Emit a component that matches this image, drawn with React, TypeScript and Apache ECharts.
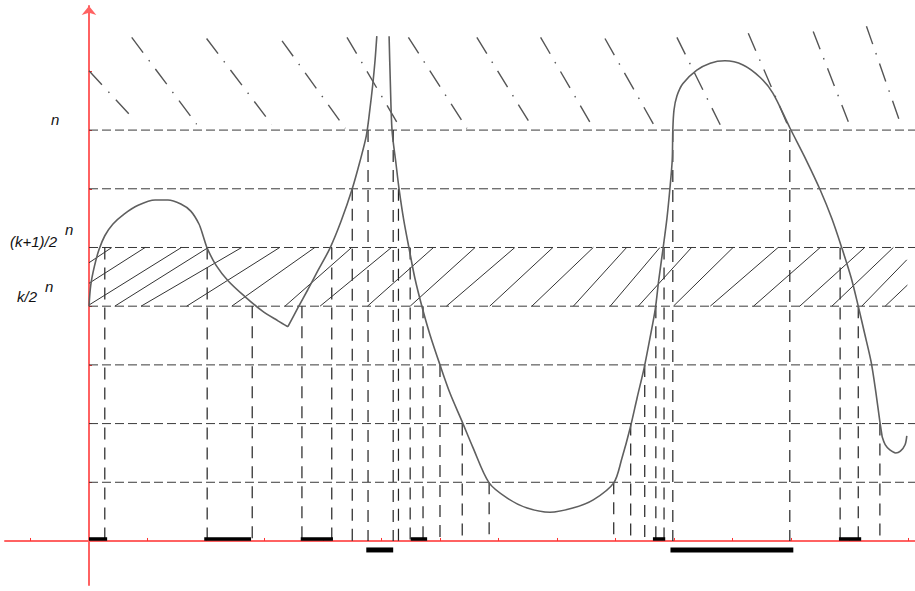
import React, { useEffect, useRef } from 'react';
import * as echarts from 'echarts';

// axis extents (graph units)
const X_MIN = -1.436;
const X_MAX = 14.12;
const Y_MIN = -0.75;
const Y_MAX = 9.114;

const xTickValues = [-1, 1, 2, 3, 4, 5, 6, 7, 8, 9, 10, 11, 12, 13, 14];
const yTickValues = [1, 2, 3, 4, 5, 6, 7, 8, 9];

// horizontal dashed levels
const levels = [1, 2, 3, 4, 5, 6, 7];

// the function graph, in pieces
const curveA1 = [
  [0, 4.0], [0.03, 4.36], [0.09, 4.67], [0.17, 4.96], [0.27, 5.2], [0.41, 5.4],
  [0.6, 5.57], [0.84, 5.72], [1.13, 5.81], [1.35, 5.81], [1.57, 5.74], [1.74, 5.62],
  [1.88, 5.4], [1.95, 5.2], [2.02, 4.99], [2.17, 4.7], [2.38, 4.43], [2.67, 4.16],
  [2.96, 3.92], [3.23, 3.75], [3.4, 3.65],
];
const curveA2 = [
  [3.4, 3.65], [3.57, 3.97], [3.74, 4.28], [3.91, 4.6], [4.12, 4.99], [4.31, 5.45],
  [4.5, 6.0], [4.63, 6.46], [4.74, 6.9], [4.8, 7.34], [4.85, 7.77], [4.89, 8.19],
  [4.92, 8.6],
];
const curveB = [
  [5.13, 8.6], [5.15, 7.85], [5.18, 7.0], [5.25, 6.41], [5.3, 6.0], [5.38, 5.47],
  [5.47, 4.99], [5.57, 4.48], [5.69, 4.0], [5.83, 3.51], [6.0, 3.0], [6.17, 2.52],
  [6.38, 2.03], [6.56, 1.6], [6.84, 0.99], [7.15, 0.73], [7.49, 0.56], [7.88, 0.49],
  [8.27, 0.56], [8.62, 0.7], [8.97, 0.99], [9.11, 1.41], [9.25, 1.92], [9.37, 2.44],
  [9.49, 2.95], [9.59, 3.46], [9.68, 3.95], [9.74, 4.45], [9.81, 4.96], [9.88, 5.5],
  [9.93, 6.0], [9.97, 6.49], [9.98, 7.0], [10.0, 7.34], [10.05, 7.58], [10.15, 7.79],
  [10.39, 8.02], [10.62, 8.14], [10.87, 8.18], [11.18, 8.11], [11.47, 7.9], [11.69, 7.63],
  [11.98, 7.04], [12.26, 6.49], [12.5, 5.98], [12.7, 5.49], [12.87, 4.99], [13.03, 4.48],
  [13.15, 4.0], [13.26, 3.53], [13.37, 3.05], [13.45, 2.54], [13.52, 2.03], [13.56, 1.77],
];
const curveHook = [
  [13.56, 1.77], [13.61, 1.64], [13.69, 1.55], [13.79, 1.5], [13.87, 1.53],
  [13.95, 1.64], [13.98, 1.79],
];

// vertical dashed drops: [x, level]
const drops = [
  [0.27, 5], [2.02, 5], [2.79, 4], [3.64, 4], [4.15, 5], [4.5, 6], [4.77, 7],
  [5.2, 7], [5.29, 6], [5.49, 5], [5.71, 4], [6.0, 3], [6.38, 2], [6.84, 1],
  [8.97, 1], [9.26, 2], [9.5, 3], [9.69, 4], [9.83, 5], [9.98, 7], [11.98, 7],
  [12.84, 5], [13.15, 4], [13.52, 2],
];

// hatch strokes in the band [k/2^n, (k+1)/2^n]: [x1, y1, x2, y2]
const hatch = [
  [0, 4.74, 0.39, 5], [0, 4.39, 0.96, 5], [0, 4.02, 1.58, 5], [0.44, 4, 2.04, 5],
  [0.89, 4, 2.61, 5], [1.67, 4, 3.26, 5], [2.44, 4, 3.86, 5], [3.35, 4, 4.49, 5],
  [3.95, 4, 5.17, 5], [4.76, 4, 5.89, 5], [5.49, 4, 6.6, 5], [6.11, 4, 7.28, 5],
  [6.85, 4, 7.93, 5], [7.57, 4, 8.62, 5], [8.28, 4, 9.19, 5], [8.91, 4, 9.76, 5],
  [9.39, 4, 10.3, 5], [9.99, 4, 11.01, 5], [10.62, 4, 11.78, 5], [11.36, 4, 12.5, 5],
  [12.15, 4, 13.26, 5], [12.7, 4, 13.75, 5], [13.21, 4, 13.98, 4.79], [13.61, 4, 13.99, 4.36],
];

// dash-dot strokes above level n: [x1, y1, x2, y2]
const dashDot = [
  [0, 8.01, 0.79, 7.16], [0.73, 8.58, 1.84, 7.1], [2.01, 8.56, 3.12, 7.1],
  [3.3, 8.52, 4.38, 7.03], [4.41, 8.58, 5.26, 7.14], [5.46, 8.58, 6.46, 7.03],
  [6.63, 8.58, 7.59, 7.03], [7.72, 8.58, 8.56, 7.14], [8.82, 8.56, 9.65, 7.1],
  [10.05, 8.58, 10.79, 7.09], [11.27, 8.65, 11.98, 7.0], [12.38, 8.68, 12.98, 7.14],
  [13.29, 8.77, 13.89, 7.06],
];

// preimage intervals of the band (on the axis) and of f >= n (below the axis)
const bandSets = [
  [0, 0.31], [1.97, 2.77], [3.62, 4.17], [5.5, 5.78], [9.64, 9.85], [12.82, 13.2],
];
const excessSets = [[4.74, 5.2], [9.94, 12.04]];

const BAND_BAR_Y = 0.034;
const EXCESS_BAR_Y = -0.153;

function segments(name: string, data: number[][], style: any, z = 3) {
  return {
    type: 'custom',
    name,
    data,
    z,
    silent: true,
    clip: false,
    encode: { x: [0, 2], y: [1, 3] },
    renderItem: (_params: any, api: any) => {
      const a = api.coord([api.value(0), api.value(1)]);
      const b = api.coord([api.value(2), api.value(3)]);
      return {
        type: 'line',
        shape: { x1: a[0], y1: a[1], x2: b[0], y2: b[1] },
        style: { ...style, fill: null },
      };
    },
  };
}

function curve(name: string, data: number[][]) {
  return {
    type: 'line',
    name,
    data,
    showSymbol: false,
    smooth: 0.3,
    silent: true,
    z: 5,
    lineStyle: { color: '#5f5f5f', width: 1.6 },
  };
}

export default function App() {
  const ref = useRef<HTMLDivElement>(null);
  useEffect(() => {
    if (!ref.current) return;
    const chart = echarts.init(ref.current, null, { renderer: 'svg' });
    const labelFont = 'italic 15px "Liberation Sans", Arial, sans-serif';
    chart.setOption({
      animation: false,
      backgroundColor: '#ffffff',
      grid: { left: 5, right: 0, top: 6, bottom: 6, containLabel: false },
      xAxis: {
        type: 'value',
        min: X_MIN,
        max: X_MAX,
        axisLine: { onZero: true, lineStyle: { color: '#ff6262', width: 2 } },
        axisTick: {
          show: true,
          inside: true,
          length: 3,
          customValues: xTickValues,
          lineStyle: { color: '#ff3030', width: 1 },
        },
        axisLabel: { show: false },
        splitLine: { show: false },
      },
      yAxis: {
        type: 'value',
        min: Y_MIN,
        max: Y_MAX,
        axisLine: {
          onZero: true,
          symbol: ['none', 'arrow'],
          symbolSize: [11, 9],
          lineStyle: { color: '#ff6262', width: 2 },
        },
        axisTick: {
          show: true,
          inside: true,
          length: 3,
          customValues: yTickValues,
          lineStyle: { color: '#ff3030', width: 1 },
        },
        axisLabel: { show: false },
        splitLine: { show: false },
      },
      graphic: [
        { type: 'text', x: 51, y: 119, style: { text: 'n', font: labelFont, fill: '#111', verticalAlign: 'middle' } },
        { type: 'text', x: 10, y: 241, style: { text: '(k+1)/2', font: labelFont, fill: '#111', verticalAlign: 'middle' } },
        { type: 'text', x: 65, y: 229, style: { text: 'n', font: labelFont, fill: '#111', verticalAlign: 'middle' } },
        { type: 'text', x: 17, y: 296, style: { text: 'k/2', font: labelFont, fill: '#111', verticalAlign: 'middle' } },
        { type: 'text', x: 45, y: 286, style: { text: 'n', font: labelFont, fill: '#111', verticalAlign: 'middle' } },
      ],
      series: [
        segments('levels', levels.map((y) => [0, y, X_MAX, y]), {
          stroke: '#3a3a3a', lineWidth: 1, lineDash: [9, 4],
        }, 2),
        segments('drops', drops.map(([x, y]) => [x, y, x, 0]), {
          stroke: '#222', lineWidth: 1.2, lineDash: [12, 8],
        }, 2),
        segments('hatch', hatch, { stroke: '#333', lineWidth: 1 }, 3),
        segments('dashdot', dashDot, {
          stroke: '#555', lineWidth: 1.4, lineDash: [19, 9.5, 1.5, 9.5],
        }, 3),
        segments('bandSets', bandSets.map(([a, b]) => [a, BAND_BAR_Y, b, BAND_BAR_Y]), {
          stroke: '#000', lineWidth: 3.5,
        }, 6),
        segments('excessSets', excessSets.map(([a, b]) => [a, EXCESS_BAR_Y, b, EXCESS_BAR_Y]), {
          stroke: '#000', lineWidth: 5,
        }, 6),
        curve('fA1', curveA1),
        curve('fA2', curveA2),
        curve('fB', curveB),
        curve('fHook', curveHook),
      ],
    });
    return () => chart.dispose();
  }, []);
  return (
    <div
      ref={ref}
      style={{ position: 'fixed', left: 0, top: 0, width: 915, height: 591, background: '#fff' }}
    />
  );
}
